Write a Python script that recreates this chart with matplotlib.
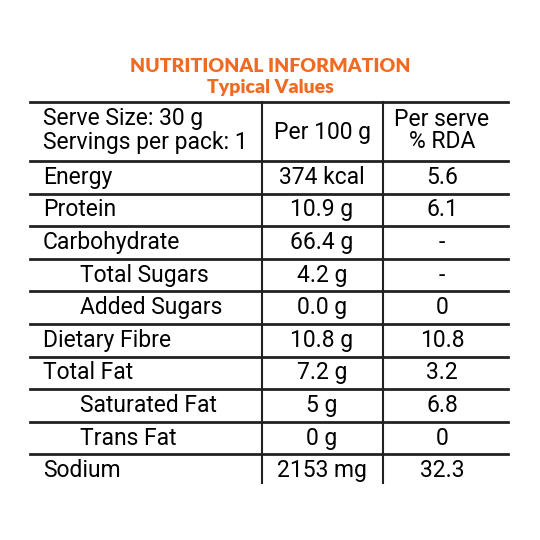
import matplotlib.pyplot as plt

nutrients = ["Energy", "Protein", "Carbohydrate", "Total Sugars", "Added Sugars",
             "Dietary Fibre", "Total Fat", "Saturated Fat", "Trans Fat", "Sodium"]
indented = [False, False, False, True, True, False, False, True, True, False]
per_100g = ["374 kcal", "10.9 g", "66.4 g", "4.2 g", "0.0 g",
            "10.8 g", "7.2 g", "5 g", "0 g", "2153 mg"]
rda = ["5.6", "6.1", "-", "-", "0", "10.8", "3.2", "6.8", "0", "32.3"]

orange = "#F26A21"
font = ["Roboto", "Liberation Sans", "DejaVu Sans"]

fig = plt.figure(figsize=(5.4, 5.4), dpi=100)
ax = fig.add_axes([0, 0, 1, 1])
ax.set_xlim(0, 540)
ax.set_ylim(540, 0)
ax.axis("off")

ax.text(270, 66, "NUTRITIONAL INFORMATION", color=orange, fontsize=14,
        fontweight="heavy", ha="center", va="center", family=["Lato", "DejaVu Sans"])
ax.text(270, 87, "Typical Values", color=orange, fontsize=14,
        fontweight="heavy", ha="center", va="center", family=["Lato", "DejaVu Sans"])

x0, x1, xc1, xc2 = 30, 508, 262, 383
top, head_bot, row_h = 102, 161, 32.6
bottom = head_bot + row_h * len(nutrients)

ax.plot([x0, x1], [top, top], color="#222", lw=2)
for i in range(len(nutrients)):
    y = head_bot + row_h * i
    ax.plot([x0, x1], [y, y], color="#222", lw=2)
for xc in (xc1, xc2):
    ax.plot([xc, xc], [top, bottom - 4], color="#222", lw=1.5)

fs = 16.5
ax.text(43, 118, "Serve Size: 30 g", fontsize=fs, va="center", family=font)
ax.text(43, 143, "Servings per pack: 1", fontsize=fs, va="center", family=font)
ax.text(322, 132, "Per 100 g", fontsize=fs, ha="center", va="center", family=font)
ax.text(442, 119, "Per serve", fontsize=fs, ha="center", va="center", family=font)
ax.text(442, 142, "% RDA", fontsize=fs, ha="center", va="center", family=font)

for i, name in enumerate(nutrients):
    y = head_bot + row_h * (i + 0.5)
    ax.text(80 if indented[i] else 43, y, name, fontsize=fs, va="center", family=font)
    ax.text(322, y, per_100g[i], fontsize=fs, ha="center", va="center", family=font)
    ax.text(442, y, rda[i], fontsize=fs, ha="center", va="center", family=font)

fig.savefig("out.png", dpi=100)
